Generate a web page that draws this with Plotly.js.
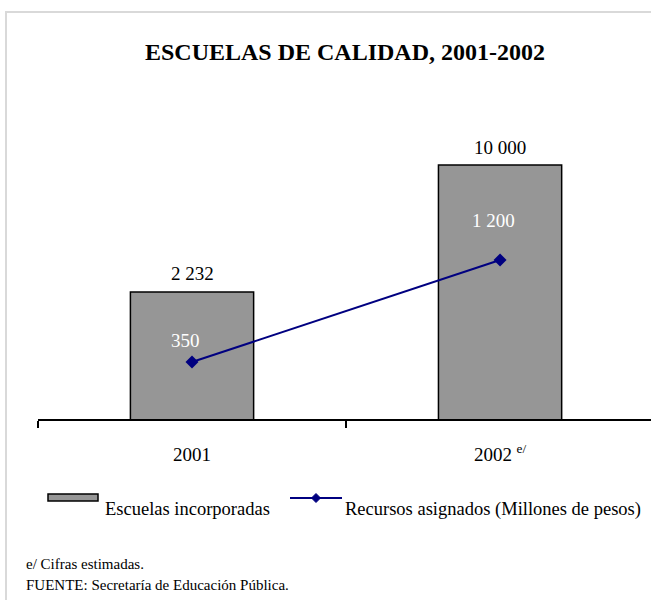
<!DOCTYPE html>
<html>
<head>
<meta charset="utf-8">
<script src="https://cdn.plot.ly/plotly-3.0.1.min.js"></script>
<style>
  html, body { margin: 0; padding: 0; background: #fff; }
  #chart { width: 651px; height: 600px; }
</style>
</head>
<body>
<div id="chart"></div>
<script>
// ---- data ----
const categories = ['2001', '2002'];
const tickLabels = ['2001', '2002 <sup>e/</sup>'];
const escuelas = [2232, 10000];          // Escuelas incorporadas
const recursos = [350, 1200];            // Recursos asignados (Millones de pesos)
const seriesNames = ['Escuelas incorporadas', 'Recursos asignados (Millones de pesos)'];
const titleText = 'ESCUELAS DE CALIDAD, 2001-2002';
const notes = ['e/ Cifras estimadas.', 'FUENTE: Secretaría de Educación Pública.'];

// ---- styling / layout helpers ----
const W = 651, H = 600;
const M = {l: 38, r: 0, t: 100, b: 181};
const PW = W - M.l - M.r, PH = H - M.t - M.b;
const px = x => (x - M.l) / PW;          // pixel -> paper x
const py = y => (H - M.b - y) / PH;      // pixel -> paper y
const FONT = '"Liberation Serif", "Times New Roman", serif';
const fmt = v => String(v).replace(/\B(?=(\d{3})+(?!\d))/g, ' ');
const barColor = '#969696';
const lineColor = '#000080';
const barLabelShift = [18, 17];                 // px above bar top
const lineLabelShift = [[-7, 22], [-7, 40]];    // px offset from marker
const xRange = [-0.5, 1.49];

const bar = {
  type: 'bar', x: categories, y: escuelas, name: seriesNames[0],
  width: 0.4,
  marker: {color: barColor, line: {color: '#000', width: 1.5}},
  hoverinfo: 'skip'
};
const line = {
  type: 'scatter', mode: 'lines+markers', x: categories, y: recursos, name: seriesNames[1],
  yaxis: 'y2',
  line: {color: lineColor, width: 2},
  marker: {symbol: 'diamond', size: 10, color: lineColor},
  hoverinfo: 'skip'
};

const staticAnn = [];
// legend texts
staticAnn.push({x: px(103), y: py(509), xref: 'paper', yref: 'paper', xanchor: 'left', yanchor: 'middle',
  text: seriesNames[0], showarrow: false, font: {family: FONT, size: 18.5, color: '#000'}});
staticAnn.push({x: px(343), y: py(509), xref: 'paper', yref: 'paper', xanchor: 'left', yanchor: 'middle',
  text: seriesNames[1], showarrow: false, font: {family: FONT, size: 18.5, color: '#000'}});
// notes
staticAnn.push({x: px(24), y: py(564), xref: 'paper', yref: 'paper', xanchor: 'left', yanchor: 'middle',
  text: notes[0], showarrow: false, font: {family: FONT, size: 15, color: '#000'}});
staticAnn.push({x: px(24), y: py(585), xref: 'paper', yref: 'paper', xanchor: 'left', yanchor: 'middle',
  text: notes[1], showarrow: false, font: {family: FONT, size: 15, color: '#000'}});

const d = 4.5; // legend diamond half size in px
const shapes = [
  // outer frame
  {type: 'rect', xref: 'paper', yref: 'paper', x0: px(6), x1: px(700), y0: py(12), y1: py(700),
   line: {color: '#d9d9d9', width: 2}, layer: 'below'},
  // legend bar key
  {type: 'rect', xref: 'paper', yref: 'paper', x0: px(48), x1: px(98), y0: py(494), y1: py(501),
   fillcolor: barColor, line: {color: '#000', width: 1.5}},
  // legend line key
  {type: 'line', xref: 'paper', yref: 'paper', x0: px(290), x1: px(342), y0: py(498), y1: py(498),
   line: {color: lineColor, width: 2}},
  {type: 'path', xref: 'paper', yref: 'paper',
   path: `M${px(316)},${py(498 - d)} L${px(316 + d)},${py(498)} L${px(316)},${py(498 + d)} L${px(316 - d)},${py(498)} Z`,
   fillcolor: lineColor, line: {color: lineColor, width: 1}}
];

const layout = {
  width: W, height: H,
  margin: M,
  paper_bgcolor: '#fff', plot_bgcolor: 'rgba(0,0,0,0)',
  showlegend: false,
  title: {text: '<b>' + titleText + '</b>', x: 345 / W, xanchor: 'center', y: 1 - 52 / H, yanchor: 'middle',
          font: {family: FONT, size: 24, color: '#000'}},
  xaxis: {
    type: 'category', range: xRange,
    tickmode: 'array', tickvals: categories, ticktext: tickLabels,
    tickson: 'boundaries', ticks: 'outside', ticklen: 7, tickwidth: 1.5, tickcolor: '#000',
    showline: true, linecolor: '#000', linewidth: 1.5,
    showgrid: false, zeroline: false, ticklabelstandoff: 18,
    tickfont: {family: FONT, size: 19, color: '#000'}, fixedrange: true
  },
  yaxis: {type: 'log', range: [2.697, 4.333], visible: false, showgrid: false, fixedrange: true},
  yaxis2: {type: 'log', range: [2.2451, 3.9186], overlaying: 'y', side: 'right', visible: false,
           showgrid: false, fixedrange: true},
  annotations: staticAnn,
  shapes: shapes
};

const gd = document.getElementById('chart');
Plotly.newPlot(gd, [bar, line], layout, {staticPlot: true, displayModeBar: false}).then(() => {
  // place value labels using the library's own axis scales
  const fl = gd._fullLayout;
  const xa = fl.xaxis, ya = fl.yaxis, ya2 = fl.yaxis2;
  const toPaperX = p => p / xa._length;
  const ann = staticAnn.slice();
  categories.forEach((c, i) => {
    const xp = xa.c2p(i);
    ann.push({
      x: toPaperX(xp), y: 1 - ya.c2p(escuelas[i]) / ya._length, xref: 'paper', yref: 'paper',
      text: fmt(escuelas[i]), showarrow: false, xanchor: 'center', yanchor: 'middle',
      yshift: barLabelShift[i], font: {family: FONT, size: 19, color: '#000'}
    });
    ann.push({
      x: toPaperX(xp), y: 1 - ya2.c2p(recursos[i]) / ya2._length, xref: 'paper', yref: 'paper',
      text: fmt(recursos[i]), showarrow: false, xanchor: 'center', yanchor: 'middle',
      xshift: lineLabelShift[i][0], yshift: lineLabelShift[i][1],
      font: {family: FONT, size: 19, color: '#fff'}
    });
  });
  return Plotly.relayout(gd, {annotations: ann});
});
</script>
</body>
</html>
